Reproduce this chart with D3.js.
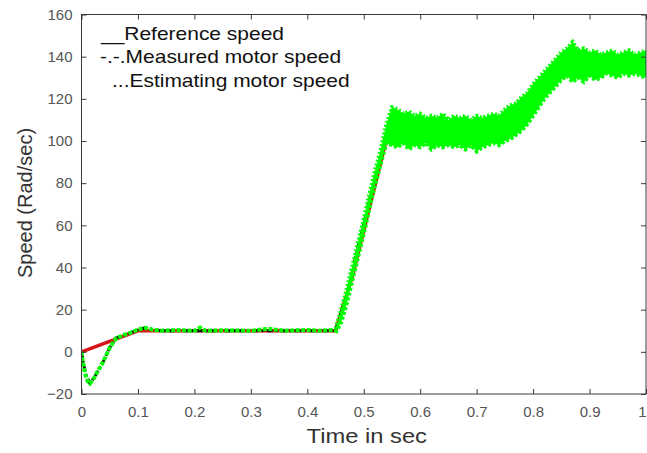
<!DOCTYPE html>
<html>
<head>
<meta charset="utf-8">
<script src="https://cdn.jsdelivr.net/npm/d3@7"></script>
<style>
  html, body { margin: 0; padding: 0; background: #fff; }
  svg { display: block; font-family: "Liberation Sans", Arial, sans-serif; }
</style>
</head>
<body>
<svg id="chart" width="647" height="453"></svg>
<script>
// ---- data ----
const xTicks = [0, 0.1, 0.2, 0.3, 0.4, 0.5, 0.6, 0.7, 0.8, 0.9, 1];
const xTickLabels = ["0", "0.1", "0.2", "0.3", "0.4", "0.5", "0.6", "0.7", "0.8", "0.9", "1"];
const yTicks = [-20, 0, 20, 40, 60, 80, 100, 120, 140, 160];

const legendLabels = ["__Reference speed", "-.-.Measured motor speed", "...Estimating motor speed"];

// Reference speed
const refTime  = [0, 0.1, 0.45, 0.48, 0.545, 0.76, 0.86, 1.0];
const refSpeed = [0, 10, 10, 36, 106, 105, 137, 137];

// Measured motor speed
const measTime  = [0, 0.003, 0.008, 0.015, 0.025, 0.038, 0.05, 0.062, 0.086, 0.112, 0.14, 0.2, 0.3, 0.45, 0.47, 0.49, 0.51, 0.53, 0.545, 0.56, 0.65, 0.75, 0.8, 0.85, 0.87, 1.0];
const measSpeed = [0, -5, -11, -15, -11, -5, 2, 6.6, 9, 11.4, 10, 10, 10, 10, 27, 50, 72, 93, 105, 106, 105, 105, 118, 133, 137, 137];

// Estimated motor speed, low-noise part (0 - 0.45 s)
const estTime  = [0, 0.002, 0.006, 0.011, 0.015, 0.02, 0.027, 0.038, 0.05, 0.062, 0.075, 0.086, 0.1, 0.112, 0.125, 0.14, 0.17, 0.2, 0.21, 0.22, 0.25, 0.3, 0.32, 0.33, 0.36, 0.4, 0.42, 0.45];
const estSpeed = [0, -4, -10, -14, -15, -13.5, -10, -5, 2, 6.6, 8, 9, 10.5, 11.4, 10.6, 10, 10.3, 10, 11.5, 10, 10.2, 10, 10.6, 11, 10, 10.4, 10, 10.5];

// Estimated motor speed, noisy part: band envelope (0.45 - 1.0 s)
const bandTime  = [0.45, 0.46, 0.47, 0.48, 0.49, 0.50, 0.51, 0.52, 0.53, 0.54, 0.55, 0.56, 0.57, 0.58, 0.59, 0.60, 0.61, 0.62, 0.63, 0.64, 0.65, 0.66, 0.67, 0.68, 0.69, 0.70, 0.71, 0.72, 0.73, 0.74, 0.75, 0.76, 0.77, 0.78, 0.79, 0.80, 0.81, 0.82, 0.83, 0.84, 0.85, 0.86, 0.87, 0.88, 0.89, 0.90, 0.91, 0.92, 0.93, 0.94, 0.95, 0.96, 0.97, 0.98, 0.99, 1.00];
const bandUpper = [11, 20, 30, 41, 52, 63, 75, 86, 96, 108, 116, 115, 113, 114, 112, 113, 111, 112, 111, 113, 110, 112, 111, 112, 110, 112, 111, 112, 113, 112, 115, 117, 118, 121, 123, 127, 130, 133, 136, 139, 142, 144, 147, 143, 144, 142, 143, 141, 142, 143, 141, 142, 143, 141, 142, 143];
const bandLower = [9, 14, 23, 34, 45, 56, 68, 79, 89, 99, 98, 97, 99, 96, 98, 97, 99, 96, 98, 97, 98, 97, 98, 96, 98, 95, 97, 98, 99, 98, 100, 101, 103, 105, 108, 112, 116, 120, 123, 126, 129, 131, 128, 130, 128, 131, 129, 130, 132, 131, 130, 132, 131, 132, 131, 130];

// ---- layout ----
const svg = d3.select("#chart");
const mLeft = 81.5, mRight = 646, mTop = 14.5, mBottom = 394;
const x = d3.scaleLinear().domain([0, 1]).range([mLeft, mRight]);
const y = d3.scaleLinear().domain([-20, 160]).range([mBottom, mTop]);

const green = "#00ff00";
const red = "#d41515";
const axisColor = "#3a3a3a";
const tickTextColor = "#555";

svg.append("defs").append("clipPath").attr("id", "clip")
  .append("rect").attr("x", mLeft).attr("y", mTop).attr("width", mRight - mLeft).attr("height", mBottom - mTop);
const plot = svg.append("g").attr("clip-path", "url(#clip)");

const lineGen = (ts, vs) => d3.line().x((d, i) => x(ts[i])).y((d, i) => y(vs[i]))(ts);

// reference
plot.append("path").attr("d", lineGen(refTime, refSpeed))
  .attr("fill", "none").attr("stroke", red).attr("stroke-width", 3.5);

// measured
plot.append("path").attr("d", lineGen(measTime, measSpeed))
  .attr("fill", "none").attr("stroke", "#111").attr("stroke-width", 3)
  .attr("stroke-dasharray", "6,3,2,3");

// estimated, band
const area = d3.area()
  .x((d, i) => x(bandTime[i]))
  .y0((d, i) => y(bandLower[i]))
  .y1((d, i) => y(bandUpper[i]));
plot.append("path").attr("d", area(bandTime)).attr("fill", green).attr("stroke", "none");
plot.append("path").attr("d", lineGen(bandTime, bandUpper))
  .attr("fill", "none").attr("stroke", green).attr("stroke-width", 4).attr("stroke-dasharray", "2,2");
plot.append("path").attr("d", lineGen(bandTime, bandLower))
  .attr("fill", "none").attr("stroke", green).attr("stroke-width", 4).attr("stroke-dasharray", "3,2");

// estimated, early part
plot.append("path").attr("d", lineGen(estTime, estSpeed))
  .attr("fill", "none").attr("stroke", green).attr("stroke-width", 4)
  .attr("stroke-dasharray", "4,1.5");

// ---- axes box ----
const tickLen = 5;
const ax = svg.append("g").attr("stroke", axisColor).attr("stroke-width", 1).attr("fill", "none");
ax.append("rect").attr("x", mLeft).attr("y", mTop).attr("width", mRight - mLeft).attr("height", mBottom - mTop);

const xAxisB = d3.axisBottom(x).tickValues(xTicks).tickSizeInner(-tickLen).tickSizeOuter(0)
  .tickFormat((d, i) => xTickLabels[i]).tickPadding(12);
const gxb = svg.append("g").attr("transform", `translate(0,${mBottom})`).call(xAxisB);
const xAxisT = d3.axisTop(x).tickValues(xTicks).tickSizeInner(-tickLen).tickSizeOuter(0).tickFormat("");
const gxt = svg.append("g").attr("transform", `translate(0,${mTop})`).call(xAxisT);
const yAxisL = d3.axisLeft(y).tickValues(yTicks).tickSizeInner(-tickLen).tickSizeOuter(0).tickPadding(9);
const gyl = svg.append("g").attr("transform", `translate(${mLeft},0)`).call(yAxisL);
const yAxisR = d3.axisRight(y).tickValues(yTicks).tickSizeInner(-tickLen).tickSizeOuter(0).tickFormat("");
const gyr = svg.append("g").attr("transform", `translate(${mRight},0)`).call(yAxisR);

[gxb, gxt, gyl, gyr].forEach(g => {
  g.select(".domain").remove();
  g.selectAll(".tick line").attr("stroke", axisColor);
  g.selectAll(".tick text").attr("fill", tickTextColor)
    .style("font-family", '"Liberation Sans", Arial, sans-serif').style("font-size", "15px");
});
// keep the last x label inside the picture
gxb.selectAll(".tick text").filter((d, i) => i === xTicks.length - 1)
  .attr("text-anchor", "end").attr("dx", "0");

// axis titles
svg.append("text").attr("transform", `translate(${(mLeft + mRight) / 2 + 3},443) scale(1.13,1)`)
  .attr("text-anchor", "middle").attr("fill", "#333")
  .style("font-size", "21px").text("Time in sec");
svg.append("text").attr("transform", `translate(32,203) rotate(-90)`)
  .attr("text-anchor", "middle").attr("fill", "#333")
  .style("font-size", "20px").text("Speed (Rad/sec)");

// legend
const legX = [101, 100, 112];
const legY = [40, 63, 87];
svg.append("g").selectAll("text").data(legendLabels).join("text")
  .attr("transform", (d, i) => `translate(${legX[i]},${legY[i]}) scale(1.165,1)`)
  .attr("fill", "#111").style("font-size", "18px").text(d => d);
</script>
</body>
</html>
